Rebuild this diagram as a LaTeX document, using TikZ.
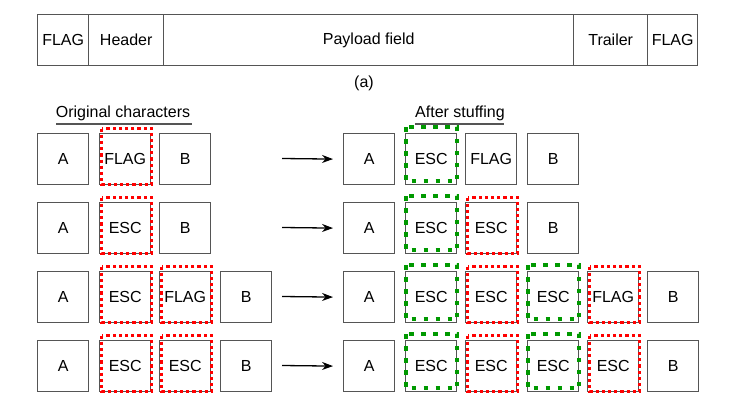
\documentclass[tikz,border=0pt]{standalone}
\usepackage{fontspec}
\setmainfont{Liberation Sans}
\usetikzlibrary{calc,arrows.meta}
\definecolor{boxgray}{RGB}{85,85,85}
\definecolor{redd}{RGB}{255,0,0}
\definecolor{greend}{RGB}{0,153,0}
\tikzset{
  cell/.style={draw=boxgray, line width=1.4pt, minimum width=51pt, minimum height=51pt, inner sep=0pt, anchor=north west, font=\fontsize{16}{19}\selectfont},
  fcell/.style={draw=boxgray, line width=1.4pt, minimum height=51pt, inner sep=0pt, anchor=north west, font=\fontsize{16}{19}\selectfont},
  lbl/.style={font=\fontsize{16}{19}\selectfont, inner sep=0pt},
  redbox/.style={draw=redd, line width=3pt, dash pattern=on 3.2pt off 3pt},
  greenbox/.style={draw=greend, line width=4pt, dash pattern=on 4.5pt off 7.5pt},
  arr/.style={draw=black, line width=1.3pt, -{Stealth[length=11pt,width=8pt]}},
  uline/.style={draw=boxgray, line width=1.4pt}
}
\newcommand{\redmark}[1]{\draw[redbox] ($(#1.north west)+(2.5,-4.5)$) rectangle ($(#1.south east)+(0.5,-1)$);}
\newcommand{\greenmark}[1]{\draw[greenbox] ($(#1.north west)+(1,-6)$) rectangle ($(#1.south east)+(0,-4)$);}
\begin{document}
\begin{tikzpicture}[x=1pt,y=-1pt]
\useasboundingbox (0,0) rectangle (738,401);
% frame (a)
\node[fcell, minimum width=51pt] (f1) at (37,14) {FLAG};
\node[fcell, minimum width=75pt] (f2) at (88,14) {Header};
\node[fcell, minimum width=410pt] (f3) at (163,14) {Payload field};
\node[fcell, minimum width=74pt] (f4) at (573,14) {Trailer};
\node[fcell, minimum width=50pt] (f5) at (647,14) {FLAG};
\node[lbl] (cap) at (364,83) {(a)};
% headings
\node[lbl] (h1) at (123,113) {Original characters};
\draw[uline] (56,124) -- (192,124);
\node[lbl] (h2) at (460,113) {After stuffing};
\draw[uline] (415,124) -- (504,124);
% row 1
\node[cell] (a1) at (37,133) {A};
\node[cell] (b1) at (99,133) {FLAG};
\node[cell] (c1) at (159,133) {B};
\node[cell] (r1a) at (343,133) {A};
\node[cell] (r1b) at (405,133) {ESC};
\node[cell] (r1c) at (465,133) {FLAG};
\node[cell] (r1d) at (527,133) {B};
% row 2
\node[cell] (a2) at (37,202) {A};
\node[cell] (b2) at (99,202) {ESC};
\node[cell] (c2) at (159,202) {B};
\node[cell] (r2a) at (343,202) {A};
\node[cell] (r2b) at (405,202) {ESC};
\node[cell] (r2c) at (465,202) {ESC};
\node[cell] (r2d) at (527,202) {B};
% row 3
\node[cell] (a3) at (37,271) {A};
\node[cell] (b3) at (99,271) {ESC};
\node[cell] (c3) at (159,271) {FLAG};
\node[cell] (d3) at (220,271) {B};
\node[cell] (r3a) at (343,271) {A};
\node[cell] (r3b) at (405,271) {ESC};
\node[cell] (r3c) at (465,271) {ESC};
\node[cell] (r3d) at (527,271) {ESC};
\node[cell] (r3e) at (587,271) {FLAG};
\node[cell] (r3f) at (647,271) {B};
% row 4
\node[cell] (a4) at (37,340) {A};
\node[cell] (b4) at (99,340) {ESC};
\node[cell] (c4) at (159,340) {ESC};
\node[cell] (d4) at (220,340) {B};
\node[cell] (r4a) at (343,340) {A};
\node[cell] (r4b) at (405,340) {ESC};
\node[cell] (r4c) at (465,340) {ESC};
\node[cell] (r4d) at (527,340) {ESC};
\node[cell] (r4e) at (587,340) {ESC};
\node[cell] (r4f) at (647,340) {B};
% arrows
\coordinate (s1) at (282,158.5);
\coordinate (s2) at (282,227.5);
\coordinate (s3) at (282,296.5);
\coordinate (s4) at (282,365.5);
\draw[arr, shorten >=10pt] (s1) -- (r1a.west);
\draw[arr, shorten >=10pt] (s2) -- (r2a.west);
\draw[arr, shorten >=10pt] (s3) -- (r3a.west);
\draw[arr, shorten >=10pt] (s4) -- (r4a.west);
% red marks
\redmark{b1}
\redmark{b2}
\redmark{b3}
\redmark{c3}
\redmark{b4}
\redmark{c4}
\redmark{r2c}
\redmark{r3c}
\redmark{r3e}
\redmark{r4c}
\redmark{r4e}
% green marks
\greenmark{r1b}
\greenmark{r2b}
\greenmark{r3b}
\greenmark{r3d}
\greenmark{r4b}
\greenmark{r4d}
\end{tikzpicture}
\end{document}
